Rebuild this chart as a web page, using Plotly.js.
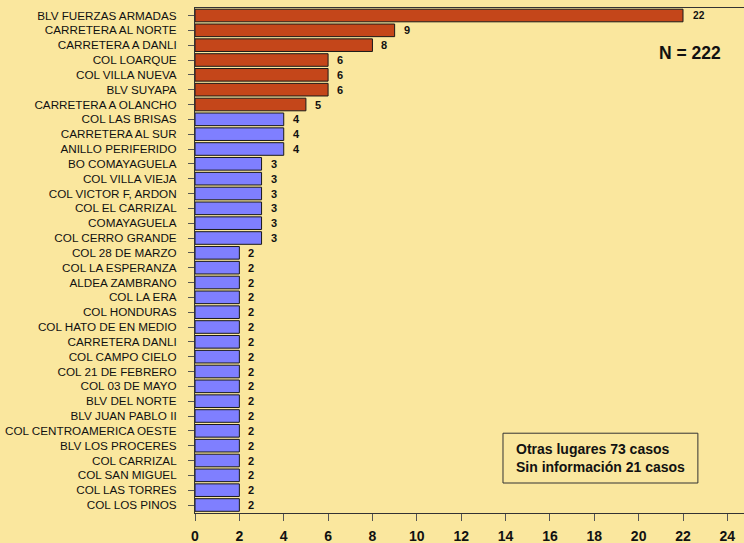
<!DOCTYPE html>
<html>
<head>
<meta charset="utf-8">
<script src="https://cdn.plot.ly/plotly-3.0.1.min.js"></script>
<style>html,body{margin:0;padding:0;background:#FAE79E;}#chart{width:744px;height:543px;}</style>
</head>
<body>
<div id="chart"></div>
<script>
const categories = [
  "BLV FUERZAS ARMADAS","CARRETERA AL NORTE","CARRETERA A DANLI","COL LOARQUE","COL VILLA NUEVA",
  "BLV SUYAPA","CARRETERA A OLANCHO","COL LAS BRISAS","CARRETERA AL SUR","ANILLO PERIFERIDO",
  "BO COMAYAGUELA","COL VILLA VIEJA","COL VICTOR F, ARDON","COL EL CARRIZAL","COMAYAGUELA",
  "COL CERRO GRANDE","COL 28 DE MARZO","COL LA ESPERANZA","ALDEA ZAMBRANO","COL LA ERA",
  "COL HONDURAS","COL HATO DE EN MEDIO","CARRETERA DANLI","COL CAMPO CIELO","COL 21 DE FEBRERO",
  "COL 03 DE MAYO","BLV DEL NORTE","BLV JUAN PABLO II","COL CENTROAMERICA OESTE","BLV LOS PROCERES",
  "COL CARRIZAL","COL SAN MIGUEL","COL LAS TORRES","COL LOS PINOS"
];
const values = [22,9,8,6,6,6,5,4,4,4,3,3,3,3,3,3,2,2,2,2,2,2,2,2,2,2,2,2,2,2,2,2,2,2];
const highlightCount = 7;
const xTicks = [0,2,4,6,8,10,12,14,16,18,20,22,24];
const nText = "N = 222";
const noteLines = ["Otras lugares 73 casos","Sin información 21 casos"];

const FONT = "Liberation Sans, Arial, sans-serif";
const barColors = values.map((v,i)=> i < highlightCount ? "#C4461A" : "#7F7FFF");

const trace = {
  type: "bar",
  orientation: "h",
  y: categories,
  x: values,
  marker: {color: barColors, line: {color: "#1a1a1a", width: 1}},
  width: 0.85,
  hoverinfo: "x+y"
};

const annotations = values.map((v,i)=>({
  x: v, y: categories[i], xref: "x", yref: "y",
  text: "<b>" + v + "</b>", showarrow: false,
  xanchor: "left", yanchor: "middle", xshift: i === 0 ? 8 : 7,
  font: {family: FONT, size: i === 0 ? 10.2 : 11, color: "#111"}
}));
annotations.push({
  xref: "paper", yref: "paper", x: 0.901, y: 0.911,
  xanchor: "center", yanchor: "middle",
  text: "<b>" + nText + "</b>", showarrow: false,
  font: {family: FONT, size: 17.5, color: "#111"}
});
annotations.push({
  xref: "paper", yref: "paper", x: 0.581, y: 0.109, xanchor: "left", yanchor: "middle", align: "left",
  text: noteLines.map(s=>"<b>"+s+"</b>").join("<br>"), showarrow: false,
  font: {family: FONT, size: 14, color: "#111"}
});

const layout = {
  width: 744, height: 543,
  paper_bgcolor: "#FAE79E", plot_bgcolor: "#FAE79E",
  margin: {l: 195, r: 0, t: 8, b: 30},
  showlegend: false,
  bargap: 0.15,
  xaxis: {
    range: [0, 24.75], tickvals: xTicks,
    showgrid: false, zeroline: false, showline: true, linecolor: "#333", linewidth: 1, mirror: true,
    ticks: "outside", ticklen: 7, tickcolor: "#555", ticklabelstandoff: 3,
    tickfont: {family: FONT, size: 14, color: "#111", weight: "bold"}
  },
  yaxis: {
    autorange: "reversed", showgrid: false, zeroline: false,
    showline: true, linecolor: "#333", linewidth: 1,
    ticks: "outside", ticklen: 6, tickcolor: "#555", ticklabelstandoff: 9,
    tickfont: {family: FONT, size: 11.7, color: "#111"}
  },
  shapes: [{
    type: "rect", xref: "paper", yref: "paper",
    x0: 0.561, x1: 0.916, y0: 0.0594, y1: 0.158,
    line: {color: "#333", width: 1}, fillcolor: "rgba(0,0,0,0)"
  }],
  annotations: annotations
};

Plotly.newPlot("chart", [trace], layout, {displayModeBar: false, staticPlot: true});
</script>
</body>
</html>
